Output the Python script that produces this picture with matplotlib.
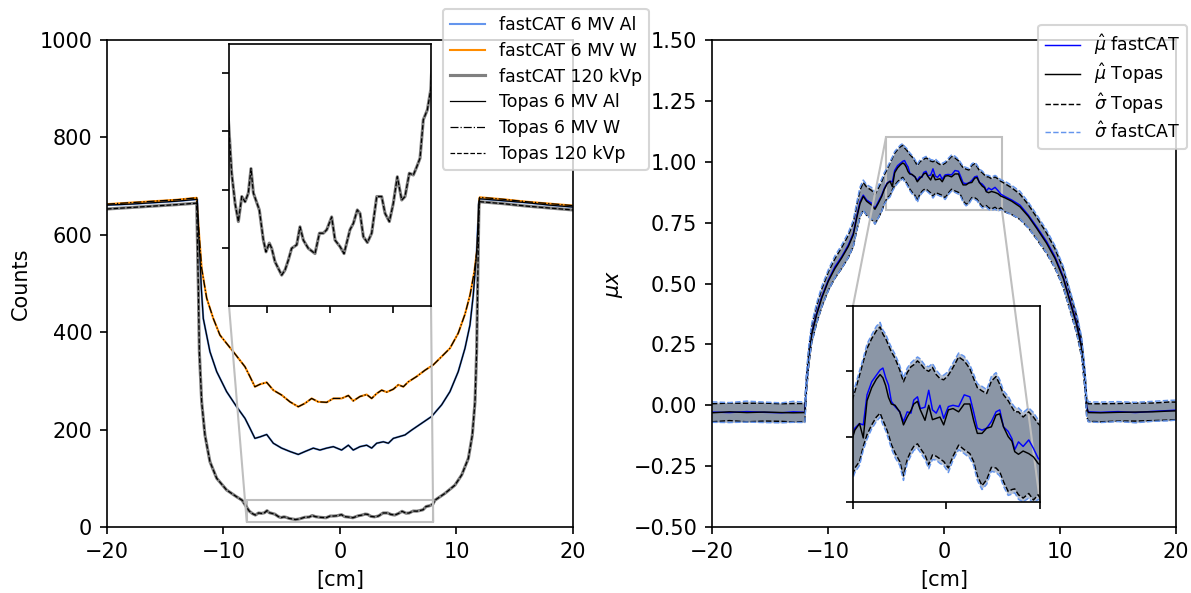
import numpy as np
import matplotlib
matplotlib.use("Agg")
import matplotlib.pyplot as plt
from mpl_toolkits.axes_grid1.inset_locator import mark_inset

# ---- left panel: counts profiles ----
x_al = [-20, -18, -16, -14, -12.25, -12.1, -12.0, -11.9, -11.73, -11.16, -10.58, -9.73, -8.87, -8.15, -7.73,
        -7.30, -6.87, -6.29, -5.72, -5.01, -4.29, -3.58, -3.0, -2.29, -1.72, -1.14, -0.57, 0.14, 0.72, 1.14,
        1.72, 2.29, 2.72, 3.15, 3.72, 4.15, 4.58, 5.01, 5.58, 6.15, 7.01, 7.87, 8.73, 9.44, 10.15, 10.73,
        11.16, 11.44, 11.73, 11.93, 12.0, 14, 16, 18, 20]
cnt_al = [661, 663, 666, 669, 673, 590, 545, 490, 428, 360, 319, 278, 247, 223, 203,
          182, 185, 190, 172, 162, 155, 149, 155, 162, 158, 162, 165, 158, 168, 158,
          165, 168, 162, 172, 175, 172, 182, 185, 189, 199, 213, 227, 251, 278, 319, 367,
          415, 476, 565, 668, 674, 670, 666, 661, 657]

x_w = [-20, -18, -16, -14, -12.3, -12.15, -11.87, -11.44, -10.87, -10.30, -9.16, -8.15, -7.73, -7.30, -6.87,
       -6.29, -5.72, -5.01, -4.29, -3.58, -3.0, -2.43, -1.86, -1.14, -0.57, 0.14, 0.72, 1.14, 1.72, 2.29,
       2.72, 3.15, 3.58, 4.01, 4.58, 5.01, 5.44, 5.86, 6.58, 7.30, 8.01, 8.73, 9.44, 10.15, 10.73, 11.16,
       11.53, 11.82, 11.96, 12.0, 14, 16, 18, 20]
cnt_w = [663, 666, 669, 672, 676, 620, 531, 470, 428, 394, 360, 329, 309, 288, 293,
         297, 281, 271, 257, 247, 254, 264, 257, 256, 264, 264, 270, 259, 268, 272,
         264, 274, 281, 277, 283, 292, 288, 298, 309, 322, 333, 350, 367, 398, 437, 476,
         524, 579, 675, 677, 673, 668, 664, 660]

x_kv = [-20, -18, -16, -14, -12.3, -12.16, -12.07, -11.87, -11.59, -11.16, -10.58, -9.73, -8.87, -8.4, -8.05,
        -7.79, -7.52, -7.26, -6.99, -6.73, -6.47, -6.26, -6.07, -5.60, -5.28, -5.07, -4.81, -4.62, -4.36,
        -3.83, -3.56, -3.30, -3.04, -2.64, -2.38, -2.11, -1.72, -1.19, -0.84, -0.53, -0.26, 0.13, 0.40,
        0.79, 1.11, 1.58, 1.85, 2.16, 2.38, 2.64, 2.96, 3.30, 3.70, 4.09, 4.36, 4.70, 5.01, 5.33, 5.68,
        5.94, 6.28, 6.60, 6.87, 7.13, 7.39, 7.71, 7.98, 8.15, 9.01, 9.87, 10.45, 11.02, 11.36, 11.59,
        11.73, 11.82, 11.93, 12.0, 14, 16, 18, 20]
cnt_kv = [653, 656, 659, 662, 665, 497, 360, 257, 189, 134, 100, 76, 62, 55, 42,
          32.8, 27.6, 24.5, 28.8, 27.9, 29.4, 33.6, 29.4, 26.5, 21.3, 19.3, 20.8, 19.9, 17.6,
          15.3, 16.2, 17.9, 19.9, 20.5, 23.6, 21.3, 19.9, 19.0, 22.5, 22.5, 23.1, 25.3, 21.3,
          20.2, 19.0, 23.1, 24.2, 26.5, 25.9, 21.9, 20.9, 22.5, 28.8, 28.8, 25.9, 24.5, 27.6, 32.2, 28.2,
          28.8, 32.8, 32.5, 33.9, 35.4, 42.0, 43.7, 47.2, 55, 69, 86, 107, 141, 189, 257,
          360, 497, 661, 668, 664, 659, 655, 651]

# ---- right panel: mu x mean and sigma band ----
x_r = [-20, -18.5, -17, -15.5, -14, -13, -12.0, -11.84, -11.64, -11.41, -10.98, -10.54, -9.97, -9.4, -8.82,
       -8.25, -7.82, -7.53, -7.24, -6.96, -6.67, -6.23, -5.95, -5.66, -5.37, -5.15,
       -4.9, -4.65, -4.45, -4.25, -4.0, -3.75, -3.55, -3.4, -3.25, -3.1, -2.95, -2.75, -2.5, -2.3, -2.1,
       -1.9, -1.75, -1.55, -1.4, -1.15, -0.95, -0.75, -0.55, -0.35, -0.15, 0.1, 0.35, 0.65, 0.95, 1.25,
       1.45, 1.65, 1.9, 2.15, 2.4, 2.65, 2.85, 3.05, 3.3, 3.5, 3.65, 3.85, 4.1, 4.4, 4.65, 4.9,
       5.26, 5.84, 6.55, 7.27, 7.99, 8.85, 9.57, 10.28, 10.86, 11.44, 11.87, 12.16, 12.3, 12.44,
       13.5, 15, 16.5, 18, 19.3, 20]
mu_fc = [-0.028, -0.030, -0.026, -0.029, -0.031, -0.027, -0.029, 0.104, 0.213, 0.295, 0.378, 0.446, 0.514, 0.569, 0.610,
         0.658, 0.706, 0.774, 0.836, 0.863, 0.843, 0.829, 0.809, 0.836, 0.863, 0.890,
         0.913, 0.920, 0.918, 0.964, 0.984, 0.994, 1.002, 1.005, 0.990, 0.979, 0.954, 0.946, 0.938, 0.923, 0.938,
         0.936, 0.956, 0.961, 0.943, 0.945, 0.971, 0.941, 0.936, 0.948, 0.928, 0.946, 0.948, 0.946, 0.964, 0.961,
         0.938, 0.913, 0.910, 0.913, 0.923, 0.938, 0.941, 0.915, 0.908, 0.897, 0.880, 0.892, 0.885, 0.895, 0.882, 0.867,
         0.857, 0.843, 0.822, 0.781, 0.733, 0.672, 0.610, 0.528, 0.432, 0.337, 0.240, 0.104, -0.006, -0.027,
         -0.029, -0.026, -0.030, -0.025, -0.022, -0.020]
mu_tp = [-0.031, -0.027, -0.030, -0.028, -0.030, -0.031, -0.030, 0.098, 0.205, 0.290, 0.372, 0.440, 0.510, 0.562, 0.605,
         0.652, 0.700, 0.768, 0.828, 0.858, 0.838, 0.822, 0.805, 0.830, 0.858, 0.886,
         0.910, 0.920, 0.898, 0.955, 0.975, 0.988, 0.995, 0.990, 0.978, 0.960, 0.950, 0.948, 0.938, 0.918, 0.930,
         0.940, 0.950, 0.954, 0.941, 0.925, 0.948, 0.926, 0.928, 0.930, 0.918, 0.941, 0.943, 0.938, 0.950, 0.950,
         0.925, 0.905, 0.905, 0.913, 0.915, 0.933, 0.935, 0.915, 0.900, 0.893, 0.877, 0.873, 0.878, 0.874, 0.869, 0.859,
         0.852, 0.838, 0.815, 0.776, 0.727, 0.665, 0.603, 0.522, 0.426, 0.330, 0.232, 0.096, -0.010, -0.030,
         -0.031, -0.029, -0.028, -0.027, -0.024, -0.023]
sig_tp_hi = [0.006, 0.009, 0.008, 0.009, 0.006, 0.007, 0.007, 0.131, 0.238, 0.324, 0.408, 0.477, 0.548, 0.602, 0.648,
             0.698, 0.749, 0.820, 0.883, 0.915, 0.896, 0.882, 0.865, 0.891, 0.919, 0.946,
             0.969, 0.994, 1.015, 1.035, 1.050, 1.062, 1.068, 1.057, 1.050, 1.040, 1.030, 1.020, 1.002, 0.984, 0.998,
             1.007, 1.010, 1.016, 1.012, 1.003, 1.000, 1.006, 0.995, 0.989, 0.987, 0.994, 1.006, 1.022, 1.016, 1.004,
             0.989, 0.975, 0.970, 0.966, 0.985, 0.992, 0.980, 0.964, 0.955, 0.945, 0.938, 0.938, 0.930, 0.938, 0.930, 0.920,
             0.910, 0.893, 0.867, 0.824, 0.772, 0.707, 0.643, 0.560, 0.462, 0.365, 0.266, 0.130, 0.025, 0.006,
             0.006, 0.007, 0.009, 0.009, 0.013, 0.013]
sig_tp_lo = [-0.068, -0.063, -0.068, -0.065, -0.066, -0.069, -0.067, 0.065, 0.172, 0.256, 0.336, 0.403, 0.472, 0.522, 0.562,
             0.606, 0.651, 0.716, 0.773, 0.801, 0.780, 0.762, 0.745, 0.769, 0.797, 0.826,
             0.852, 0.862, 0.885, 0.903, 0.918, 0.930, 0.936, 0.925, 0.915, 0.903, 0.888, 0.875, 0.862, 0.840, 0.865,
             0.878, 0.885, 0.889, 0.882, 0.872, 0.857, 0.872, 0.870, 0.866, 0.862, 0.852, 0.870, 0.887, 0.880, 0.874,
             0.862, 0.840, 0.825, 0.834, 0.853, 0.852, 0.846, 0.831, 0.816, 0.819, 0.820, 0.811, 0.806, 0.813, 0.803, 0.811,
             0.794, 0.783, 0.763, 0.728, 0.682, 0.623, 0.563, 0.484, 0.390, 0.295, 0.198, 0.062, -0.045, -0.066,
             -0.068, -0.065, -0.065, -0.063, -0.061, -0.059]
sig_fc_hi = [0.014, 0.011, 0.017, 0.013, 0.010, 0.016, 0.013, 0.142, 0.251, 0.334, 0.419, 0.488, 0.557, 0.614, 0.658,
             0.709, 0.760, 0.831, 0.896, 0.925, 0.906, 0.894, 0.874, 0.902, 0.929, 0.955,
             0.976, 1.001, 1.020, 1.042, 1.056, 1.069, 1.075, 1.063, 1.057, 1.046, 1.037, 1.026, 1.009, 0.990, 1.005,
             1.013, 1.017, 1.022, 1.019, 1.009, 1.007, 1.012, 1.002, 0.995, 0.994, 1.000, 1.013, 1.028, 1.023, 1.010,
             0.996, 0.981, 0.977, 0.972, 0.992, 0.998, 0.987, 0.970, 0.962, 0.951, 0.945, 0.944, 0.937, 0.944, 0.937, 0.926,
             0.920, 0.903, 0.879, 0.834, 0.783, 0.719, 0.655, 0.571, 0.473, 0.377, 0.279, 0.143, 0.034, 0.014,
             0.013, 0.015, 0.012, 0.016, 0.020, 0.021]
sig_fc_lo = [-0.070, -0.071, -0.069, -0.071, -0.072, -0.070, -0.071, 0.066, 0.175, 0.256, 0.337, 0.404, 0.471, 0.524, 0.562,
             0.607, 0.652, 0.717, 0.776, 0.801, 0.780, 0.764, 0.744, 0.770, 0.797, 0.825,
             0.845, 0.856, 0.879, 0.896, 0.912, 0.923, 0.930, 0.918, 0.909, 0.896, 0.882, 0.868, 0.856, 0.833, 0.859,
             0.871, 0.879, 0.882, 0.876, 0.865, 0.851, 0.865, 0.864, 0.859, 0.856, 0.845, 0.864, 0.880, 0.874, 0.867,
             0.856, 0.833, 0.819, 0.827, 0.847, 0.845, 0.840, 0.824, 0.810, 0.812, 0.814, 0.804, 0.800, 0.806, 0.797, 0.804,
             0.794, 0.783, 0.765, 0.728, 0.683, 0.625, 0.565, 0.485, 0.391, 0.297, 0.201, 0.065, -0.046, -0.068,
             -0.071, -0.067, -0.072, -0.066, -0.064, -0.061]


def draw_counts(ax, labels=True):
    lab = (lambda s: s) if labels else (lambda s: None)
    ax.plot(x_al, cnt_al, color='cornflowerblue', lw=1.0, label=lab('fastCAT 6 MV Al'))
    ax.plot(x_w, cnt_w, color='darkorange', lw=1.0, label=lab('fastCAT 6 MV W'))
    ax.plot(x_kv, cnt_kv, color='gray', lw=1.5, label=lab('fastCAT 120 kVp'))
    ax.plot(x_al, cnt_al, color='k', lw=0.6, ls='-', label=lab('Topas 6 MV Al'))
    ax.plot(x_w, cnt_w, color='k', lw=0.6, ls='-.', label=lab('Topas 6 MV W'))
    ax.plot(x_kv, cnt_kv, color='k', lw=0.6, ls='--', label=lab('Topas 120 kVp'))


def draw_mu(ax, labels=True):
    lab = (lambda s: s) if labels else (lambda s: None)
    ax.fill_between(x_r, sig_tp_lo, sig_tp_hi, color='gray', alpha=0.5, lw=0)
    ax.fill_between(x_r, sig_fc_lo, sig_fc_hi, color='#2c4a7a', alpha=0.35, lw=0)
    ax.plot(x_r, mu_fc, color='blue', lw=0.7, label=lab(r'$\hat{\mu}$ fastCAT'))
    ax.plot(x_r, mu_tp, color='k', lw=0.7, label=lab(r'$\hat{\mu}$ Topas'))
    ax.plot(x_r, sig_tp_hi, color='k', lw=0.7, ls='--', label=lab(r'$\hat{\sigma}$ Topas'))
    ax.plot(x_r, sig_tp_lo, color='k', lw=0.7, ls='--')
    ax.plot(x_r, sig_fc_hi, color='cornflowerblue', lw=0.7, ls='--', label=lab(r'$\hat{\sigma}$ fastCAT'))
    ax.plot(x_r, sig_fc_lo, color='cornflowerblue', lw=0.7, ls='--')


fig = plt.figure(figsize=(1191 / 150, 593 / 150), dpi=150)

ax1 = fig.add_axes([0.0898, 0.1113, 0.3913, 0.8212])
draw_counts(ax1)
ax1.set_xlim(-20, 20)
ax1.set_ylim(0, 1000)
ax1.set_xlabel('[cm]')
ax1.set_ylabel('Counts')
ax1.legend(loc='upper left', bbox_to_anchor=(443 / 1191, 1 - 9 / 593),
           bbox_transform=fig.transFigure, borderaxespad=0, fontsize='small',
           labelspacing=0.45)

ins1 = fig.add_axes([0.1923, 0.484, 0.1696, 0.4418])
draw_counts(ins1, labels=False)
ins1.set_xlim(-8, 8)
ins1.set_ylim(10, 55)
ins1.set_xticks([-5, 0, 5])
ins1.set_yticks([20, 30, 40, 50])
ins1.tick_params(labelleft=False, labelbottom=False)
mark_inset(ax1, ins1, loc1=3, loc2=4, fc='none', ec='0.75', lw=1.0)

ax2 = fig.add_axes([0.5978, 0.1113, 0.3896, 0.8212])
draw_mu(ax2)
ax2.set_xlim(-20, 20)
ax2.set_ylim(-0.5, 1.5)
ax2.set_yticks(np.arange(-0.5, 1.51, 0.25))
ax2.set_xlabel('[cm]')
ax2.set_ylabel(r'$\mu x$')
ax2.legend(loc='upper right', bbox_to_anchor=(1187 / 1191, 1 - 25 / 593),
           bbox_transform=fig.transFigure, borderaxespad=0, fontsize='small',
           labelspacing=0.3)

ins2 = fig.add_axes([0.7162, 0.1535, 0.1570, 0.3305])
draw_mu(ins2, labels=False)
ins2.set_xlim(-5, 5)
ins2.set_ylim(0.8, 1.1)
ins2.set_xticks([-5, 0, 5])
ins2.set_yticks([0.8, 0.9, 1.0, 1.1])
ins2.tick_params(labelleft=False, labelbottom=False)
mark_inset(ax2, ins2, loc1=2, loc2=4, fc='none', ec='0.75', lw=1.0)

fig.savefig('out.png', dpi=150)
